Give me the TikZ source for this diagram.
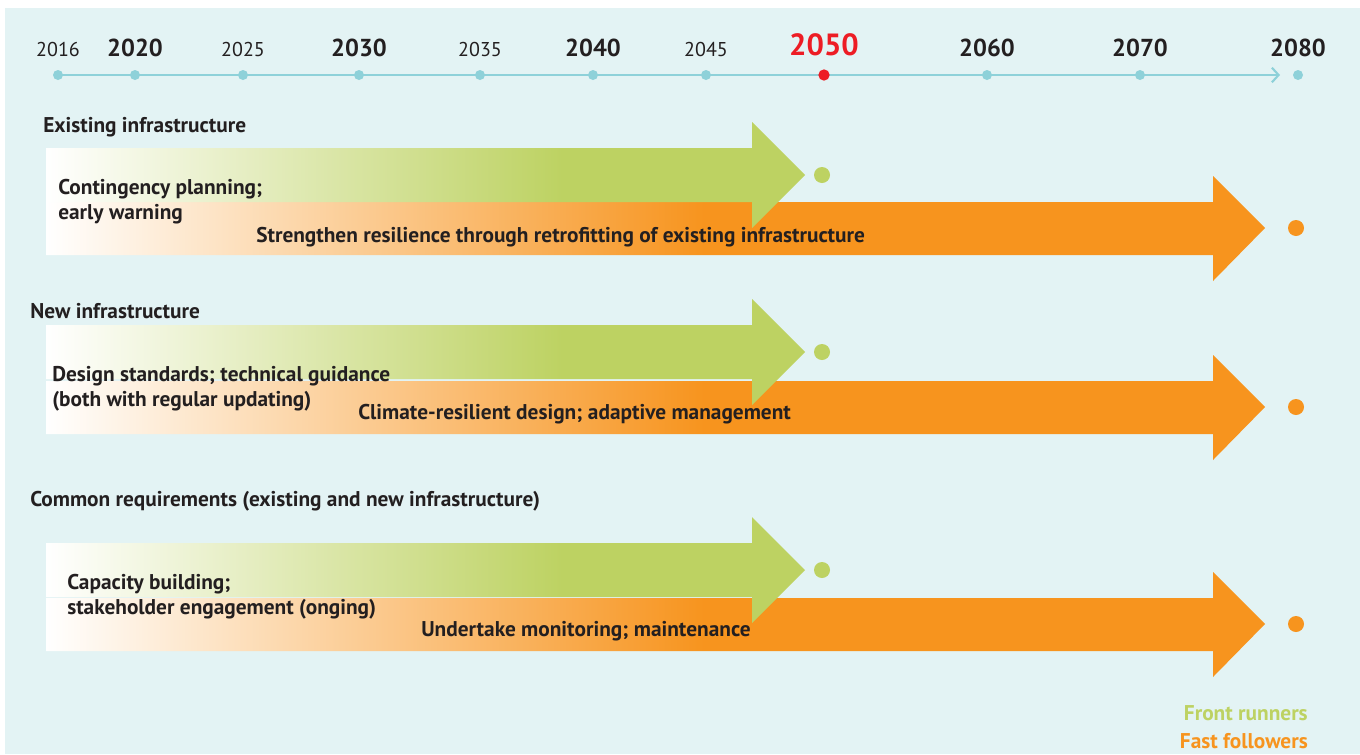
\documentclass[tikz,border=0pt]{standalone}
\usepackage{fontspec}
\setmainfont{PT Sans}
\usetikzlibrary{arrows.meta}
\definecolor{panelbg}{HTML}{E3F3F4}
\definecolor{axisteal}{HTML}{8ED1D9}
\definecolor{frontgreen}{HTML}{BDD262}
\definecolor{fastorange}{HTML}{F7941E}
\definecolor{keyred}{HTML}{ED1C24}
\definecolor{textink}{HTML}{231F20}
% 25bp..75bp of each shading spans the arrow from tail to tip
\pgfdeclarehorizontalshading{greenfade}{100bp}{color(0bp)=(white); color(25bp)=(white); color(59bp)=(frontgreen); color(100bp)=(frontgreen)}
\pgfdeclarehorizontalshading{orangefade}{100bp}{color(0bp)=(white); color(25bp)=(white); color(52bp)=(fastorange); color(100bp)=(fastorange)}

\begin{document}
\begin{tikzpicture}[
  x=0.75pt,
  y=-0.75pt,
  every node/.style={font=\bfseries\fontsize{16}{18}\selectfont, textink, inner sep=0pt},
  timeline/.style={axisteal, line width=2.2pt, -{Straight Barb[length=5pt, width=11pt, line width=1.6pt]}},
  yeardot/.style={circle, fill=axisteal, minimum size=7.5pt},
  minoryear/.style={font=\fontsize{15}{17}\selectfont},
  majoryear/.style={font=\bfseries\fontsize{18.4}{20}\selectfont},
  rowtitle/.style={anchor=west},
  bandtext/.style={anchor=west, align=left, font=\bfseries\fontsize{16}{18.75}\selectfont},
  frontband/.style={shading=greenfade},
  fastband/.style={shading=orangefade},
  frontdot/.style={circle, fill=frontgreen, minimum width=10.5pt, minimum height=12pt},
  fastdot/.style={circle, fill=fastorange, minimum width=10.5pt, minimum height=12pt}
]

  %% ---- panel --------------------------------------------------------------
  \useasboundingbox (0,0) rectangle (1360,754);
  \fill[white] (0,0) rectangle (1360,754);
  \fill[panelbg] (5,8) rectangle (1360,754);

  %% ---- time axis ----------------------------------------------------------
  \foreach \yr/\px in {2016/58, 2020/135, 2025/243, 2030/359, 2035/480,
                       2040/593, 2045/706, 2050/824, 2060/987, 2070/1140, 2080/1298}
    \coordinate (yr\yr) at (\px,75);
  \coordinate (axisend) at (1280,75);
  \draw[timeline] (yr2016) -- (axisend);

  \foreach \yr in {2016, 2025, 2035, 2045}{
    \node[yeardot] (dot\yr) at (yr\yr) {};
    \node[minoryear, anchor=base] (lbl\yr) at ([yshift=14pt]yr\yr) {\yr};
  }
  \foreach \yr in {2020, 2030, 2040, 2060, 2070, 2080}{
    \node[yeardot] (dot\yr) at (yr\yr) {};
    \node[majoryear, anchor=base] (lbl\yr) at ([yshift=14pt]yr\yr) {\yr};
  }
  \node[yeardot, fill=keyred, minimum size=8.5pt] (dot2050) at (yr2050) {};
  \node[majoryear, keyred, font=\bfseries\fontsize{23}{25}\selectfont, anchor=base]
    (lbl2050) at ([yshift=14.5pt]yr2050) {2050};

  %% ---- the three bands: fast followers under, front runners over ---------
  % \gy, \oy: axis heights of the green and the orange arrow in each band
  \foreach \gy/\oy in {175/228, 352/407, 570/624}{
    \shade[fastband] (46,\oy-26) -- (1213,\oy-26) -- (1213,\oy-52) -- (1265,\oy)
      -- (1213,\oy+53) -- (1213,\oy+27) -- (46,\oy+27) -- cycle;
    \shade[frontband] (46,\gy-27) -- (752,\gy-27) -- (752,\gy-53) -- (805,\gy)
      -- (752,\gy+53) -- (752,\gy+27) -- (46,\gy+27) -- cycle;
  }
  \node[frontdot] (end1) at (822,175) {};
  \node[fastdot]  (end2) at (1296,228) {};
  \node[frontdot] (end3) at (822,352) {};
  \node[fastdot]  (end4) at (1296,407) {};
  \node[frontdot] (end5) at (822,570) {};
  \node[fastdot]  (end6) at (1296,624) {};

  %% ---- band titles and texts ---------------------------------------------
  \node[rowtitle] (existing) at (43,127) {Existing infrastructure};
  \node[bandtext] (contingency) at (58,202) {Contingency planning;\\early warning};
  \node[bandtext] (retrofit) at (256,237)
    {Strengthen resilience through retrofitting of existing infrastructure};

  \node[rowtitle] (newinfra) at (30,311) {New infrastructure};
  \node[bandtext] (standards) at (52,389) {Design standards; technical guidance\\(both with regular updating)};
  \node[bandtext] (adaptive) at (358,414) {Climate-resilient design; adaptive management};

  \node[rowtitle] (common) at (30,501) {Common requirements (existing and new infrastructure)};
  \node[bandtext] (capacity) at (67,597) {Capacity building;\\stakeholder engagement (onging)};
  \node[bandtext] (monitoring) at (421,631) {Undertake monitoring; maintenance};

  %% ---- key, bottom right ---------------------------------------------------
  \node[anchor=east, frontgreen] (keyfront) at (1308,713) {Front runners};
  \node[anchor=east, fastorange] (keyfast) at (1308,741) {Fast followers};

\end{tikzpicture}
\end{document}
